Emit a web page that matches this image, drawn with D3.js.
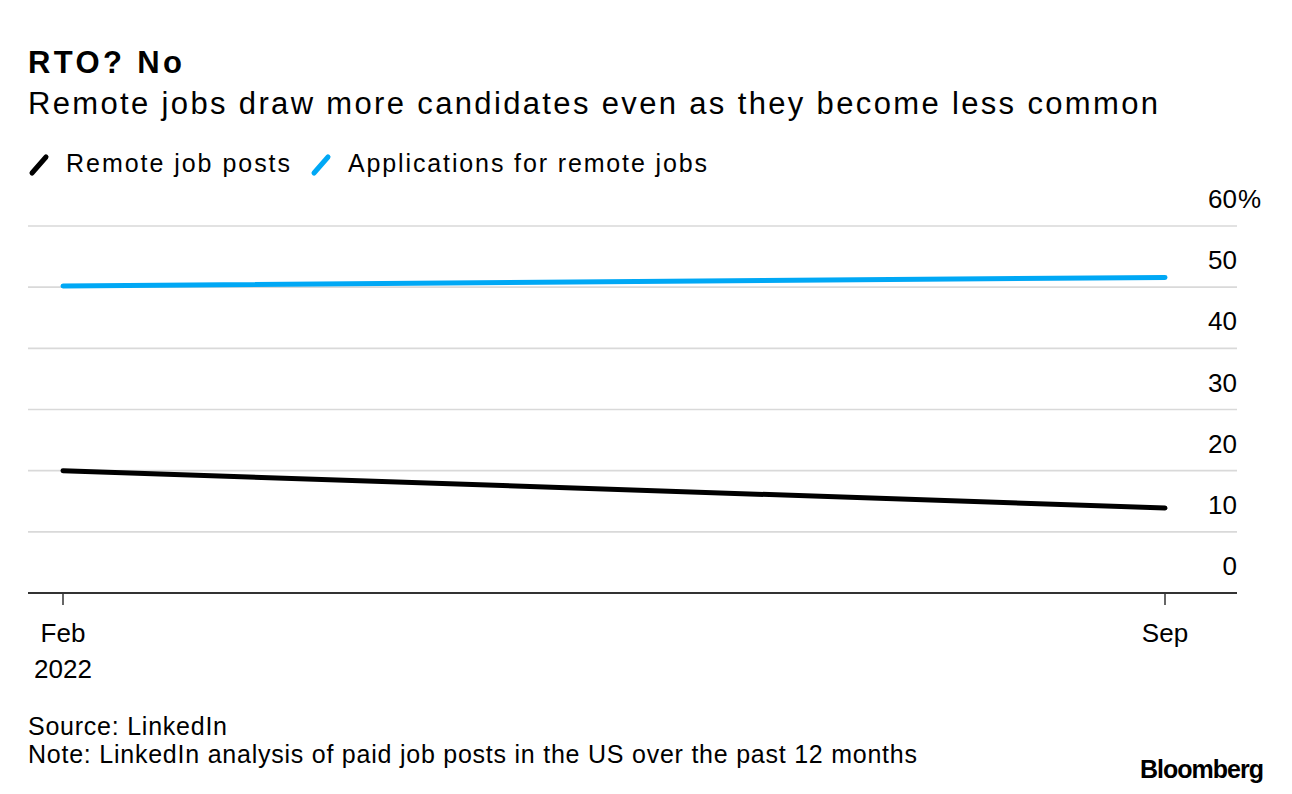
<!DOCTYPE html>
<html>
<head>
<meta charset="utf-8">
<script src="https://cdn.jsdelivr.net/npm/d3@7"></script>
<style>
  html, body { margin: 0; padding: 0; background: #fff; }
  svg { display: block; font-family: "Liberation Sans", Arial, sans-serif; }
</style>
</head>
<body>
<svg id="chart" width="1292" height="794"></svg>
<script>
// ---- data ----
const months = ["Feb", "Sep"];
const remoteJobPosts = [20.0, 13.9];
const remoteApplications = [50.2, 51.6];
const yTicks = [0, 10, 20, 30, 40, 50, 60];
const seriesNames = ["Remote job posts", "Applications for remote jobs"];
const seriesColors = ["#000000", "#00a8f5"];

(function () {
const svg = d3.select("#chart");
const W = 1292, H = 794;
svg.append("rect").attr("width", W).attr("height", H).attr("fill", "#fff");

const plotLeft = 28, plotRight = 1237, plotTop = 226, plotBottom = 593;

const x = d3.scalePoint().domain(months).range([63, 1165]);
const y = d3.scaleLinear().domain([0, 60]).range([plotBottom, plotTop]);

function fitText(sel, w) { sel.attr("textLength", w).attr("lengthAdjust", "spacing"); return sel; }

// Title / subtitle
fitText(svg.append("text").attr("x", 28).attr("y", 73)
  .attr("font-size", 31).attr("font-weight", "bold").attr("fill", "#000")
  .text("RTO? No"), 154);
fitText(svg.append("text").attr("x", 28).attr("y", 114)
  .attr("font-size", 31).attr("fill", "#000")
  .text("Remote jobs draw more candidates even as they become less common"), 1130);

// Legend
const legendItems = [
  { name: seriesNames[0], color: seriesColors[0], ix: 31, tx: 66, tw: 224 },
  { name: seriesNames[1], color: seriesColors[1], ix: 313, tx: 348, tw: 359 }
];
legendItems.forEach(d => {
  svg.append("line").attr("x1", d.ix + 1).attr("y1", 173).attr("x2", d.ix + 15).attr("y2", 157)
    .attr("stroke", d.color).attr("stroke-width", 5).attr("stroke-linecap", "round");
  fitText(svg.append("text").attr("x", d.tx).attr("y", 172)
    .attr("font-size", 25).attr("fill", "#000").text(d.name), d.tw);
});

// Gridlines
svg.append("g").selectAll("line").data(yTicks.filter(t => t > 0)).join("line")
  .attr("x1", plotLeft).attr("x2", plotRight)
  .attr("y1", d => y(d)).attr("y2", d => y(d))
  .attr("stroke", "#d9d9d9").attr("stroke-width", 1.6);

// Y labels (right-aligned at gridline end, % hanging)
const yl = svg.append("g").attr("font-size", 26).attr("fill", "#000");
yTicks.forEach(t => {
  yl.append("text").attr("x", plotRight).attr("y", y(t) - 18)
    .attr("text-anchor", "end").text(t);
  if (t === 60) {
    yl.append("text").attr("x", plotRight + 1).attr("y", y(t) - 18).text("%");
  }
});

// Lines
const line = d3.line().x((d, i) => x(months[i])).y(d => y(d));
[[remoteApplications, seriesColors[1]], [remoteJobPosts, seriesColors[0]]].forEach(([s, c]) => {
  svg.append("path").datum(s).attr("d", line)
    .attr("fill", "none").attr("stroke", c)
    .attr("stroke-width", 5).attr("stroke-linecap", "round").attr("stroke-linejoin", "round");
});

// X axis baseline and ticks
svg.append("line").attr("x1", plotLeft).attr("x2", plotRight).attr("y1", plotBottom).attr("y2", plotBottom)
  .attr("stroke", "#333").attr("stroke-width", 2);
const xa = svg.append("g");
months.forEach(m => {
  xa.append("line").attr("x1", x(m)).attr("x2", x(m)).attr("y1", plotBottom).attr("y2", plotBottom + 12)
    .attr("stroke", "#333").attr("stroke-width", 1.5);
  xa.append("text").attr("x", x(m)).attr("y", 642).attr("text-anchor", "middle")
    .attr("font-size", 26).attr("fill", "#000").text(m);
});
xa.append("text").attr("x", x(months[0])).attr("y", 678).attr("text-anchor", "middle")
  .attr("font-size", 26).attr("fill", "#000").text("2022");

// Footer
fitText(svg.append("text").attr("x", 28).attr("y", 735).attr("font-size", 25).attr("fill", "#000")
  .text("Source: LinkedIn"), 199);
fitText(svg.append("text").attr("x", 28).attr("y", 763).attr("font-size", 25).attr("fill", "#000")
  .text("Note: LinkedIn analysis of paid job posts in the US over the past 12 months"), 889);
svg.append("text").attr("x", 1263).attr("y", 778).attr("text-anchor", "end")
  .attr("font-size", 25).attr("font-weight", "bold").attr("fill", "#000")
  .attr("letter-spacing", -1).text("Bloomberg");
})();
</script>
</body>
</html>
